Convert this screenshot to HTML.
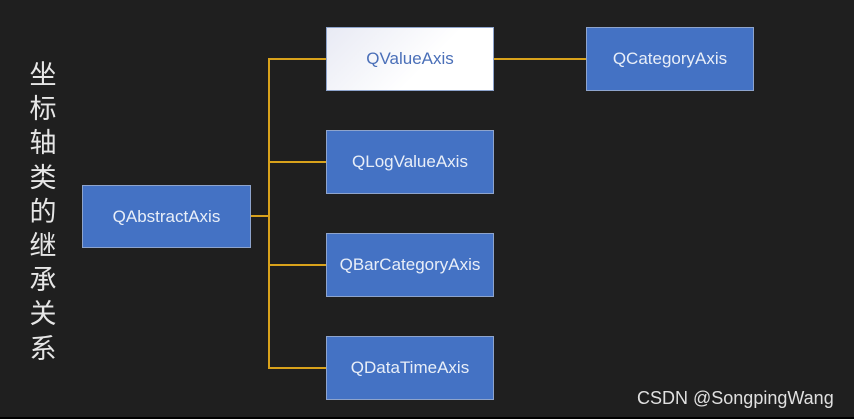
<!DOCTYPE html>
<html><head><meta charset="utf-8"><style>
body{margin:0;width:854px;height:419px;background:#1f1f1f;position:relative;overflow:hidden;font-family:"Liberation Sans","Noto Sans CJK SC",sans-serif}
.b{position:absolute;background:#4472c4;border:1px solid #8ea4cc;color:#e8eef8;font-size:17px;display:flex;align-items:center;justify-content:center;box-sizing:border-box}
.l{position:absolute;background:#d9a21b}
#t{position:absolute;left:28px;top:56px;width:30px;font-size:27px;line-height:34.2px;color:#e6e6e6;font-family:"Noto Sans CJK SC",sans-serif;text-align:center}
</style></head><body>
<div id="t">坐<br>标<br>轴<br>类<br>的<br>继<br>承<br>关<br>系</div>
<div class="l" style="left:268px;top:58px;width:2px;height:310px"></div>
<div class="l" style="left:250px;top:215px;width:19px;height:2px"></div>
<div class="l" style="left:268px;top:58px;width:58px;height:2px"></div>
<div class="l" style="left:268px;top:161px;width:58px;height:2px"></div>
<div class="l" style="left:268px;top:264px;width:58px;height:2px"></div>
<div class="l" style="left:268px;top:367px;width:58px;height:2px"></div>
<div class="l" style="left:493px;top:58px;width:93px;height:2px"></div>
<div class="b" style="left:82px;top:185px;width:169px;height:63px">QAbstractAxis</div>
<div class="b" style="left:326px;top:27px;width:168px;height:64px;background:linear-gradient(135deg,#e8eaf4,#ffffff 60%);color:#4a6fb8">QValueAxis</div>
<div class="b" style="left:326px;top:130px;width:168px;height:64px">QLogValueAxis</div>
<div class="b" style="left:326px;top:233px;width:168px;height:64px">QBarCategoryAxis</div>
<div class="b" style="left:326px;top:336px;width:168px;height:64px">QDataTimeAxis</div>
<div class="b" style="left:586px;top:27px;width:168px;height:64px">QCategoryAxis</div>
<div style="position:absolute;left:637px;top:388px;font-size:18px;color:#e0e0e0">CSDN @SongpingWang</div>
<div style="position:absolute;left:0;top:417px;width:854px;height:2px;background:#000"></div>
</body></html>
